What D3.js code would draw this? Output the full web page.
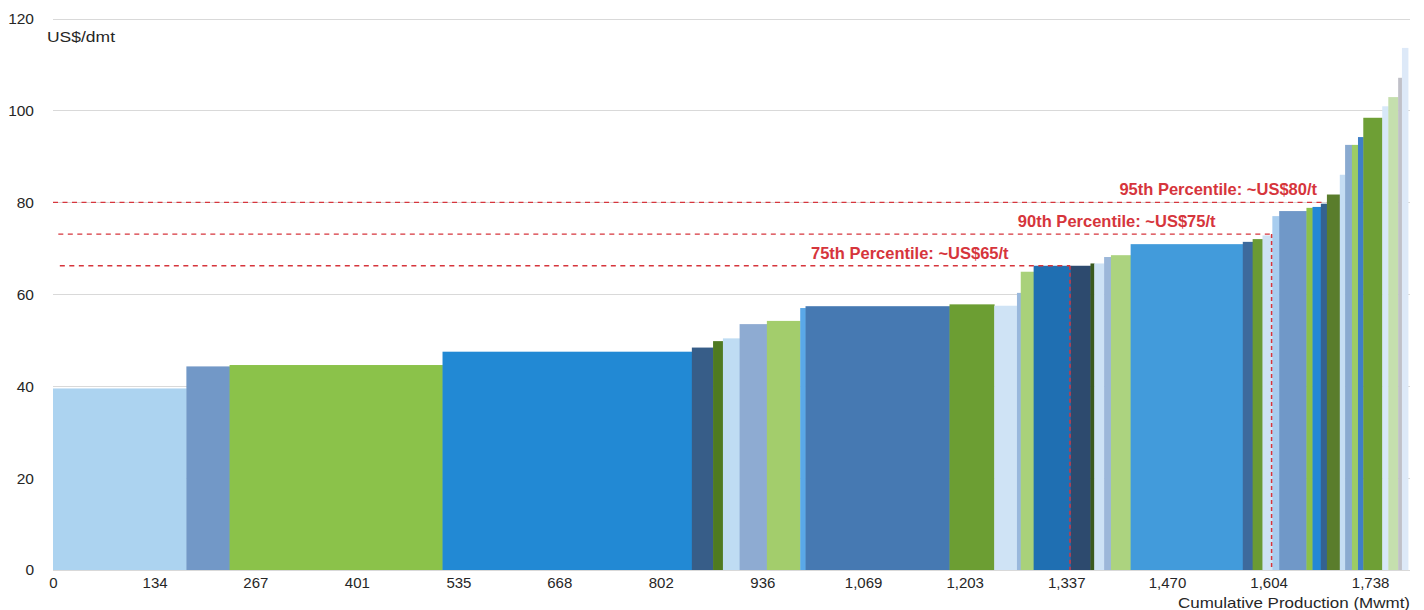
<!DOCTYPE html>
<html>
<head>
<meta charset="utf-8">
<script src="https://cdn.jsdelivr.net/npm/d3@7"></script>
<style>
  html, body { margin: 0; padding: 0; background: #ffffff; }
  svg { display: block; font-family: "Liberation Sans", Arial, sans-serif; }
</style>
</head>
<body>
<svg id="chart" width="1424" height="610"></svg>
<script>
// ---- Data ----
// production volume of each producer (Mwmt), in cost order
const production = [176, 57, 281, 329, 28, 13, 22, 36, 44, 7, 190, 59, 30, 5, 17, 49, 26, 5, 13, 9,
                    26, 148, 13, 13, 13, 9, 36, 8, 11, 8, 17, 7, 9, 8, 7, 25, 8, 13, 5, 8];
// cash cost of each producer (US$/dmt)
const cashCost = [39.5, 44.3, 44.6, 47.5, 48.4, 49.8, 50.4, 53.5, 54.2, 57.0, 57.4, 57.8, 57.5, 60.3, 64.9, 66.2, 66.2, 66.7, 66.7, 68.1,
                  68.5, 70.9, 71.4, 72.0, 72.8, 77.0, 78.1, 78.8, 79.0, 79.7, 81.7, 86.0, 92.5, 92.5, 94.2, 98.4, 100.9, 102.9, 107.1, 113.6];
const xTickValues = [0, 134, 267, 401, 535, 668, 802, 936, 1069, 1203, 1337, 1470, 1604, 1738];
const xTickLabels = ["0", "134", "267", "401", "535", "668", "802", "936", "1,069", "1,203", "1,337", "1,470", "1,604", "1,738"];
const yTickValues = [0, 20, 40, 60, 80, 100, 120];
const pctLabels = ["95th Percentile: ~US$80/t", "90th Percentile: ~US$75/t", "75th Percentile: ~US$65/t"];
const pctCost = [80, 73.1, 66.2];
const pctStart = [0, 7, 9];
const pctEnd = [1680, 1608, 1342];
const pctLabelEnd = [1668, 1534, 1261];
const pctVertical = [false, true, true];
const xTotal = 1788;

// ---- Styles ----
const barColors = ["#acd3f0", "#7298c7", "#8bc24a", "#2289d4", "#375d88", "#4f7a22", "#bfdcf3", "#8eabd2", "#a3cd6c", "#5aa8e8",
                   "#4679b2", "#6c9e33", "#cfe3f5", "#9ab8dc", "#a9d17a", "#1f6fb2", "#2d4a6e", "#3a5a1f", "#cde2f5", "#9cb7d9",
                   "#acd37f", "#429bdb", "#3d6a9c", "#6a9a35", "#cfe2f3", "#a8cdef", "#7098c8", "#8cc04a", "#2388d5", "#35628f",
                   "#5a7d2c", "#c5ddf3", "#8aaad0", "#9ccc65", "#3f7fc6", "#6e9f35", "#d7e8f8", "#c5dfae", "#c0c0c8", "#dde9f8"];
const red = "#d6353c";
const textColor = "#262626";

const svg = d3.select("#chart");
const x = d3.scaleLinear().domain([0, xTotal]).range([53, 1408]);
const y = d3.scaleLinear().domain([0, 120]).range([570, 18.5]);

// cumulative positions
let acc = 0;
const bars = production.map((w, i) => {
  const d = { x0: acc, x1: acc + w, cost: cashCost[i], color: barColors[i] };
  acc += w;
  return d;
});

// gridlines
svg.append("g").selectAll("line").data(yTickValues).join("line")
  .attr("x1", x(0)).attr("x2", x(xTotal) + 2)
  .attr("y1", d => Math.round(y(d)) + 0.5).attr("y2", d => Math.round(y(d)) + 0.5)
  .attr("stroke", "#d9d9d9").attr("stroke-width", 1.2);

// bars
svg.append("g").selectAll("rect").data(bars).join("rect")
  .attr("x", d => x(d.x0))
  .attr("width", d => x(d.x1) - x(d.x0) + 0.4)
  .attr("y", d => y(d.cost))
  .attr("height", d => y(0) - y(d.cost))
  .attr("fill", d => d.color);

// y axis labels
const yAxis = d3.axisLeft(y).tickValues(yTickValues).tickSize(0).tickPadding(0);
const yg = svg.append("g").attr("transform", "translate(34,0)").call(yAxis);
yg.select(".domain").remove();
yg.selectAll("text").attr("font-size", 15.5).attr("fill", textColor)
  .attr("font-family", "Liberation Sans, Arial, sans-serif");

// x axis labels
const xAxis = d3.axisBottom(x).tickValues(xTickValues).tickSize(0).tickPadding(0)
  .tickFormat((d, i) => xTickLabels[i]);
const xg = svg.append("g").attr("transform", "translate(0,577)").call(xAxis);
xg.select(".domain").remove();
xg.selectAll("text").attr("font-size", 15).attr("fill", textColor)
  .attr("font-family", "Liberation Sans, Arial, sans-serif");

// axis titles
svg.append("text").attr("x", 47).attr("y", 42)
  .attr("font-size", 15).attr("fill", textColor)
  .attr("textLength", 68).attr("lengthAdjust", "spacingAndGlyphs")
  .text("US$/dmt");
svg.append("text").attr("x", 1178).attr("y", 608)
  .attr("font-size", 15).attr("fill", textColor)
  .attr("textLength", 232).attr("lengthAdjust", "spacingAndGlyphs")
  .text("Cumulative Production (Mwmt)");

// percentile lines
const pg = svg.append("g");
pctLabels.forEach((lab, i) => {
  pg.append("line")
    .attr("x1", x(pctStart[i])).attr("x2", x(pctEnd[i]))
    .attr("y1", y(pctCost[i])).attr("y2", y(pctCost[i]))
    .attr("stroke", red).attr("stroke-width", 1.3).attr("stroke-dasharray", "5,4.5");
  if (pctVertical[i]) {
    pg.append("line")
      .attr("x1", x(pctEnd[i])).attr("x2", x(pctEnd[i]))
      .attr("y1", y(pctCost[i])).attr("y2", y(0))
      .attr("stroke", red).attr("stroke-width", 1.5).attr("stroke-dasharray", "4,3");
  }
  pg.append("text")
    .attr("x", x(pctLabelEnd[i])).attr("y", y(pctCost[i]) - 7)
    .attr("text-anchor", "end")
    .attr("font-size", 16.5).attr("font-weight", "bold").attr("fill", red)
    .text(lab);
});
</script>
</body>
</html>
